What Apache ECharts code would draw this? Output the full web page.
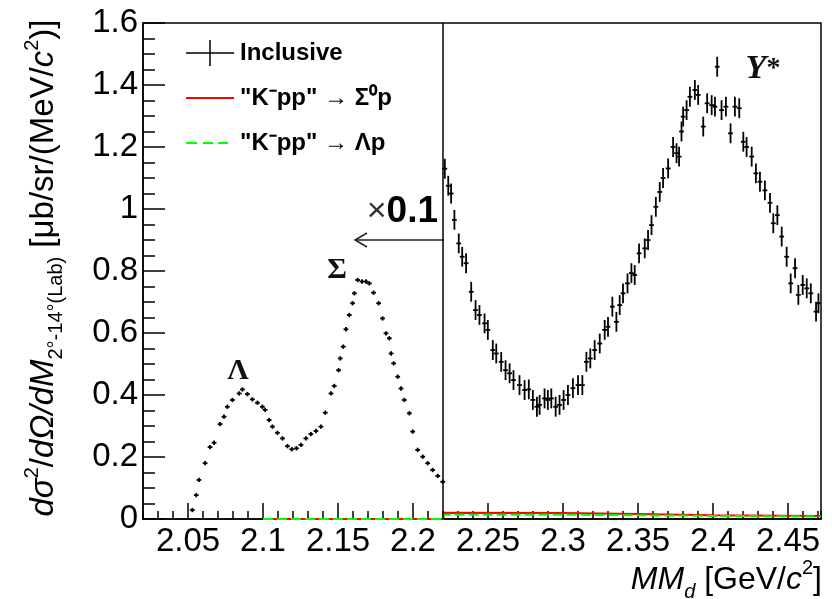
<!DOCTYPE html>
<html><head><meta charset="utf-8">
<script src="https://cdn.jsdelivr.net/npm/echarts@6/dist/echarts.min.js"></script>
<style>html,body{margin:0;padding:0;background:#fff}#c{width:832px;height:599px}</style>
</head><body><div id="c"></div>
<script>
// ---------- data ----------
const leftX = [2.0529,2.0555,2.0573,2.0614,2.0647,2.0674,2.0714,2.0740,2.0762,2.0796,2.0841,2.0863,2.0896,2.0929,2.0963,2.0996,2.1014,2.1041,2.1063,2.1096,2.1130,2.1163,2.1192,2.1223,2.1253,2.1286,2.1319,2.1353,2.1386,2.1415,2.1453,2.1475,2.1504,2.1515,2.1535,2.1553,2.1575,2.1597,2.1609,2.1631,2.1660,2.1687,2.1709,2.1737,2.1771,2.1797,2.1820,2.1842,2.1854,2.1871,2.1898,2.1920,2.1942,2.1976,2.1998,2.2031,2.2065,2.2098,2.2131,2.2165,2.2198];
const leftY = [0.029,0.077,0.126,0.180,0.232,0.246,0.306,0.330,0.362,0.384,0.405,0.418,0.403,0.386,0.375,0.362,0.352,0.319,0.298,0.278,0.260,0.235,0.225,0.228,0.239,0.260,0.274,0.284,0.298,0.343,0.405,0.429,0.480,0.518,0.556,0.612,0.658,0.696,0.728,0.771,0.766,0.766,0.760,0.730,0.696,0.647,0.599,0.583,0.534,0.502,0.459,0.421,0.384,0.341,0.282,0.223,0.201,0.180,0.158,0.139,0.120];
const rightX = [2.2212,2.2235,2.2254,2.2276,2.2305,2.2328,2.2354,2.2388,2.2417,2.2443,2.2477,2.2499,2.2532,2.2555,2.2588,2.2617,2.2644,2.2670,2.2710,2.2744,2.2772,2.2799,2.2826,2.2844,2.2877,2.2899,2.2922,2.2951,2.2977,2.3004,2.3033,2.3066,2.3100,2.3129,2.3156,2.3182,2.3211,2.3245,2.3278,2.3300,2.3329,2.3356,2.3378,2.3400,2.3430,2.3456,2.3478,2.3507,2.3545,2.3567,2.3590,2.3619,2.3645,2.3667,2.3701,2.3734,2.3757,2.3774,2.3790,2.3801,2.3824,2.3846,2.3879,2.3901,2.3935,2.3961,2.3991,2.4013,2.4028,2.4057,2.4086,2.4117,2.4146,2.4175,2.4202,2.4224,2.4258,2.4286,2.4313,2.4346,2.4380,2.4402,2.4429,2.4458,2.4491,2.4518,2.4547,2.4569,2.4598,2.4625,2.4652,2.4687,2.4703];
const rightY = [1.130,1.075,1.050,0.965,0.889,0.846,0.825,0.733,0.674,0.658,0.631,0.610,0.545,0.534,0.507,0.480,0.470,0.448,0.432,0.416,0.418,0.384,0.362,0.368,0.389,0.384,0.389,0.362,0.368,0.384,0.400,0.422,0.432,0.432,0.507,0.518,0.545,0.566,0.610,0.620,0.685,0.636,0.690,0.728,0.760,0.793,0.787,0.857,0.873,0.900,0.948,1.007,1.055,1.100,1.131,1.200,1.180,1.169,1.250,1.298,1.319,1.362,1.384,1.368,1.266,1.341,1.335,1.330,1.459,1.319,1.330,1.244,1.330,1.325,1.217,1.200,1.169,1.115,1.088,1.060,1.020,0.954,0.980,0.911,0.846,0.760,0.809,0.723,0.755,0.744,0.728,0.669,0.696];
const leftErrX = 0.0016, leftErrY = 0.007;
const rightErrX = 0.0016, rightErrY = 0.032;

const sigmaX = [2.10, 2.2203, 2.2203, 2.30, 2.35, 2.40, 2.472];
const sigmaY = [0, 0, 0.020, 0.019, 0.016, 0.012, 0.010];
const lambdaX = [2.10, 2.2203, 2.2203, 2.30, 2.35, 2.40, 2.472];
const lambdaY = [0, 0, 0.014, 0.014, 0.012, 0.010, 0.008];

const xTickLabels = [2.05, 2.1, 2.15, 2.2, 2.25, 2.3, 2.35, 2.4, 2.45];
const xMin = 2.02, xMax = 2.472, xMinorStep = 0.01;
const yMin = 0, yMax = 1.6, yStep = 0.2;
const splitX = 2.2203;

const nameIncl = 'Inclusive';
const nameSig = '"K\u207Bpp" \u2192 \u03A3\u2070p';
const nameLam = '"K\u207Bpp" \u2192 \u039Bp';

// ---------- chart ----------
const FONT = '"Liberation Sans", Arial, Helvetica, sans-serif';
const SERIF = '"Liberation Serif", "Times New Roman", serif';
const chart = echarts.init(document.getElementById('c'), null, {renderer: 'canvas'});

const pts = leftX.map((x, i) => [x, leftY[i], leftErrX, leftErrY])
  .concat(rightX.map((x, i) => [x, rightY[i], rightErrX, rightErrY]));

function renderErr(params, api) {
  const x = api.value(0), y = api.value(1), ex = api.value(2), ey = api.value(3);
  const c = api.coord([x, y]);
  const l = api.coord([x - ex, y]), r = api.coord([x + ex, y]);
  const t = api.coord([x, y + ey]), b = api.coord([x, y - ey]);
  const st = {stroke: '#000', lineWidth: 1.8};
  return {type: 'group', children: [
    {type: 'line', shape: {x1: l[0], y1: c[1], x2: r[0], y2: c[1]}, style: st},
    {type: 'line', shape: {x1: c[0], y1: t[1], x2: c[0], y2: b[1]}, style: st}
  ]};
}

const crossIcon = 'path://M0,12.25H48V13.75H0Z M23.25,0H24.75V26H23.25Z';
const redIcon = 'path://M0,0H0.01V0.01H0Z M0,12H48V14H0Z M47.99,25.99H48V26H47.99Z';
const greenIcon = 'path://M0,0H0.01V0.01H0Z M0,12H11V14H0Z M17,12H27V14H17Z M32,12H42V14H32Z M47.99,25.99H48V26H47.99Z';

const option = {
  animation: false,
  backgroundColor: '#fff',
  grid: {left: 143, right: 11, top: 23, bottom: 80, show: true, borderColor: '#000', borderWidth: 1.5, backgroundColor: 'transparent'},
  legend: {
    orient: 'vertical', left: 181, top: 35, itemWidth: 48, itemHeight: 26, itemGap: 19,
    itemStyle: {borderWidth: 0},
    textStyle: {fontFamily: FONT, fontSize: 24, fontWeight: 'bold', color: '#000', padding: [0, 0, 0, 1]},
    data: [{name: nameIncl, icon: crossIcon}, {name: nameSig, icon: redIcon}, {name: nameLam, icon: greenIcon}]
  },
  xAxis: [{
    type: 'value', min: xMin, max: xMax, position: 'bottom',
    axisLine: {show: true, onZero: false, lineStyle: {color: '#000', width: 1.5}},
    axisTick: {show: true, inside: true, length: 16, customValues: xTickLabels, lineStyle: {color: '#000', width: 1.5}},
    axisLabel: {show: true, customValues: xTickLabels, fontFamily: FONT, fontSize: 33, color: '#000', margin: 6,
      formatter: v => String(+v.toFixed(2))},
    splitLine: {show: false}
  }, {
    type: 'value', min: xMin, max: xMax, interval: xMinorStep, position: 'bottom', offset: 0,
    axisLine: {show: false},
    axisTick: {show: true, inside: true, length: 8, lineStyle: {color: '#000', width: 1.5}},
    axisLabel: {show: false}, splitLine: {show: false}
  }],
  yAxis: {
    type: 'value', min: yMin, max: yMax, interval: yStep,
    axisLine: {show: true, lineStyle: {color: '#000', width: 1.5}},
    axisTick: {show: true, inside: true, length: 22, lineStyle: {color: '#000', width: 1.5}},
    minorTick: {show: true, splitNumber: 4, length: 12, lineStyle: {color: '#000', width: 1.5}},
    axisLabel: {fontFamily: FONT, fontSize: 33, color: '#000', margin: 5},
    splitLine: {show: false}
  },
  series: [{
    name: nameSig, type: 'line', xAxisIndex: 0, data: sigmaX.map((x, i) => [x, sigmaY[i]]),
    showSymbol: false, symbol: 'none', clip: false, color: '#ff0000', z: 3,
    lineStyle: {color: '#ff0000', width: 2},
    markLine: {silent: true, symbol: 'none', label: {show: false},
      lineStyle: {color: '#000', width: 1.5, type: 'solid'}, data: [{xAxis: splitX}]}
  }, {
    name: nameLam, type: 'line', xAxisIndex: 0, data: lambdaX.map((x, i) => [x, lambdaY[i]]),
    showSymbol: false, symbol: 'none', clip: false, color: '#00ff00', z: 4,
    lineStyle: {color: '#00ff00', width: 2, type: [10, 4]}
  }, {
    name: nameIncl, type: 'custom', xAxisIndex: 0, yAxisIndex: 0,
    data: pts, encode: {x: 0, y: 1}, renderItem: renderErr,
    itemStyle: {color: '#000'}, z: 5
  }],
  graphic: [
    {type: 'text', x: 44, y: 268, rotation: Math.PI / 2, style: {
      text: '{i|d\u03C3}{sup|2}{n|/}{i|d\u03A9/dM}{sub|2\u00B0-14\u00B0(Lab)}{n| [\u03BCb/sr/(MeV/}{i|c}{sup|2}{n|)]}',
      align: 'center', verticalAlign: 'middle', fill: '#000',
      rich: {
        n: {fontFamily: FONT, fontSize: 33, lineHeight: 44, verticalAlign: 'middle', fill: '#000'},
        i: {fontFamily: FONT, fontSize: 33, fontStyle: 'italic', lineHeight: 44, verticalAlign: 'middle', fill: '#000'},
        sup: {fontFamily: FONT, fontSize: 20, lineHeight: 20, verticalAlign: 'top', fill: '#000'},
        sub: {fontFamily: FONT, fontSize: 20, lineHeight: 20, verticalAlign: 'bottom', fill: '#000'}
      }}},
    {type: 'text', x: 822, y: 580, style: {
      text: '{i|MM}{sub|d}{n| [GeV/}{i|c}{sup|2}{n|]}',
      align: 'right', verticalAlign: 'middle', fill: '#000',
      rich: {
        n: {fontFamily: FONT, fontSize: 32, lineHeight: 44, verticalAlign: 'middle', fill: '#000'},
        i: {fontFamily: FONT, fontSize: 32, fontStyle: 'italic', lineHeight: 44, verticalAlign: 'middle', fill: '#000'},
        sup: {fontFamily: FONT, fontSize: 20, lineHeight: 20, verticalAlign: 'top', fill: '#000'},
        sub: {fontFamily: FONT, fontSize: 20, fontStyle: 'italic', lineHeight: 20, verticalAlign: 'bottom', fill: '#000'}
      }}},
    {type: 'text', x: 238, y: 371, style: {text: '\u039B', font: 'bold 30px ' + SERIF, fill: '#111', align: 'center', verticalAlign: 'middle'}},
    {type: 'text', x: 337, y: 270, style: {text: '\u03A3', font: 'bold 30px ' + SERIF, fill: '#111', align: 'center', verticalAlign: 'middle'}},
    {type: 'text', x: 763, y: 69, style: {text: '{y|Y}{s|*}', align: 'center', verticalAlign: 'middle',
      rich: {y: {fontFamily: SERIF, fontSize: 34, fontStyle: 'italic', fontWeight: 'bold', fill: '#111'},
             s: {fontFamily: SERIF, fontSize: 28, fontWeight: 'bold', fill: '#111'}}}},
    {type: 'text', x: 438, y: 212, style: {text: '{a|\u00D7}{b|0.1}', align: 'right', verticalAlign: 'middle',
      rich: {a: {fontFamily: FONT, fontSize: 34, fill: '#333'}, b: {fontFamily: FONT, fontSize: 37, fontWeight: 'bold', fill: '#000'}}}},
    {type: 'line', shape: {x1: 444, y1: 240, x2: 355, y2: 240}, style: {stroke: '#222', lineWidth: 1.5}},
    {type: 'polyline', shape: {points: [[367, 233], [355, 240], [367, 247]]}, style: {stroke: '#222', lineWidth: 1.5, fill: null}}
  ]
};
chart.setOption(option);
</script>
</body></html>
